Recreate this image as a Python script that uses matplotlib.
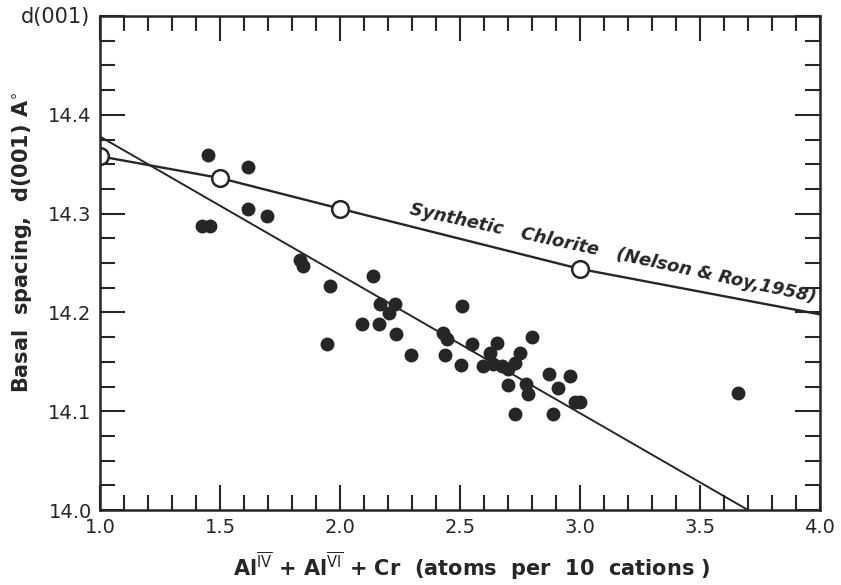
import matplotlib.pyplot as plt
from matplotlib.ticker import MultipleLocator

# natural chlorites (filled dots)
al_cr = [1.45, 1.617, 1.617, 1.696, 1.425, 1.46, 1.833, 1.846, 1.958, 1.946,
         2.138, 2.167, 2.229, 2.204, 2.092, 2.163, 2.233, 2.296, 2.508, 2.43,
         2.446, 2.4375, 2.504, 2.55, 2.654, 2.8, 2.625, 2.75, 2.596, 2.638,
         2.675, 2.7, 2.729, 2.7, 2.775, 2.783, 2.871, 2.958, 2.908, 2.98,
         3.0, 2.729, 2.888, 3.658]
d001 = [14.359, 14.347, 14.305, 14.298, 14.287, 14.287, 14.253, 14.247, 14.227, 14.168,
        14.237, 14.208, 14.208, 14.199, 14.188, 14.188, 14.178, 14.157, 14.206, 14.179,
        14.173, 14.157, 14.147, 14.168, 14.169, 14.175, 14.159, 14.159, 14.146, 14.148,
        14.146, 14.143, 14.149, 14.127, 14.128, 14.117, 14.138, 14.136, 14.123, 14.109,
        14.109, 14.097, 14.097, 14.118]

# synthetic chlorite (Nelson & Roy, 1958)
syn_x = [1.0, 1.5, 2.0, 3.0]
syn_y = [14.358, 14.336, 14.305, 14.244]
syn_line_x = [1.0, 1.5, 2.0, 3.0, 4.0]
syn_line_y = [14.358, 14.336, 14.305, 14.244, 14.198]

# regression line through natural samples
fit_x = [1.0, 3.70]
fit_y = [14.378, 14.0]

ink = '#262626'
plt.rcParams['font.family'] = 'DejaVu Sans'

fig = plt.figure(figsize=(8.41, 5.85), dpi=100)
ax = fig.add_axes([100/841, 1-510/585, 720/841, 494/585])

ax.plot(fit_x, fit_y, color=ink, lw=1.4)
ax.plot(syn_line_x, syn_line_y, color=ink, lw=1.7)
ax.plot(syn_x, syn_y, 'o', ms=12, mfc='white', mec=ink, mew=1.8)
ax.plot(al_cr, d001, 'o', ms=9, color=ink, mec=ink)

ax.set_xlim(1.0, 4.0)
ax.set_ylim(14.0, 14.5)
ax.xaxis.set_major_locator(MultipleLocator(0.5))
ax.xaxis.set_minor_locator(MultipleLocator(0.1))
ax.yaxis.set_major_locator(MultipleLocator(0.1))
ax.yaxis.set_minor_locator(MultipleLocator(0.025))
ax.xaxis.set_major_formatter(lambda v, p: f'{v:.1f}')
ax.yaxis.set_major_formatter(lambda v, p: f'{v:.1f}' if v < 14.45 else '')

ax.tick_params(which='both', direction='in', top=True, right=True,
               color=ink, labelcolor=ink, labelsize=14, width=1.5)
ax.tick_params(which='major', length=18, pad=6)
ax.tick_params(which='minor', length=11)
for s in ax.spines.values():
    s.set_linewidth(1.8)
    s.set_color(ink)

ax.text(2.285, 14.299, 'Synthetic   Chlorite   (Nelson & Roy,1958)',
        rotation=-12.3, rotation_mode='anchor', ha='left', va='baseline',
        fontsize=12.8, style='italic', fontweight='semibold', color=ink)

fig.text(55/841, 1-17/585, 'd(001)', ha='center', va='center', fontsize=15, color=ink)
fig.text(22/841, 0.586, r'Basal  spacing,  d(001) A$^{\circ}$', rotation=90,
         ha='center', va='center', fontsize=15, fontweight='bold', color=ink)
fig.text(0.561, 1-576/585,
         r'Al$^{\overline{\rm IV}}$ + Al$^{\overline{\rm VI}}$ + Cr  (atoms  per  10  cations )',
         ha='center', va='baseline', fontsize=15, fontweight='semibold', color=ink)

fig.savefig('out.png', dpi=100)
